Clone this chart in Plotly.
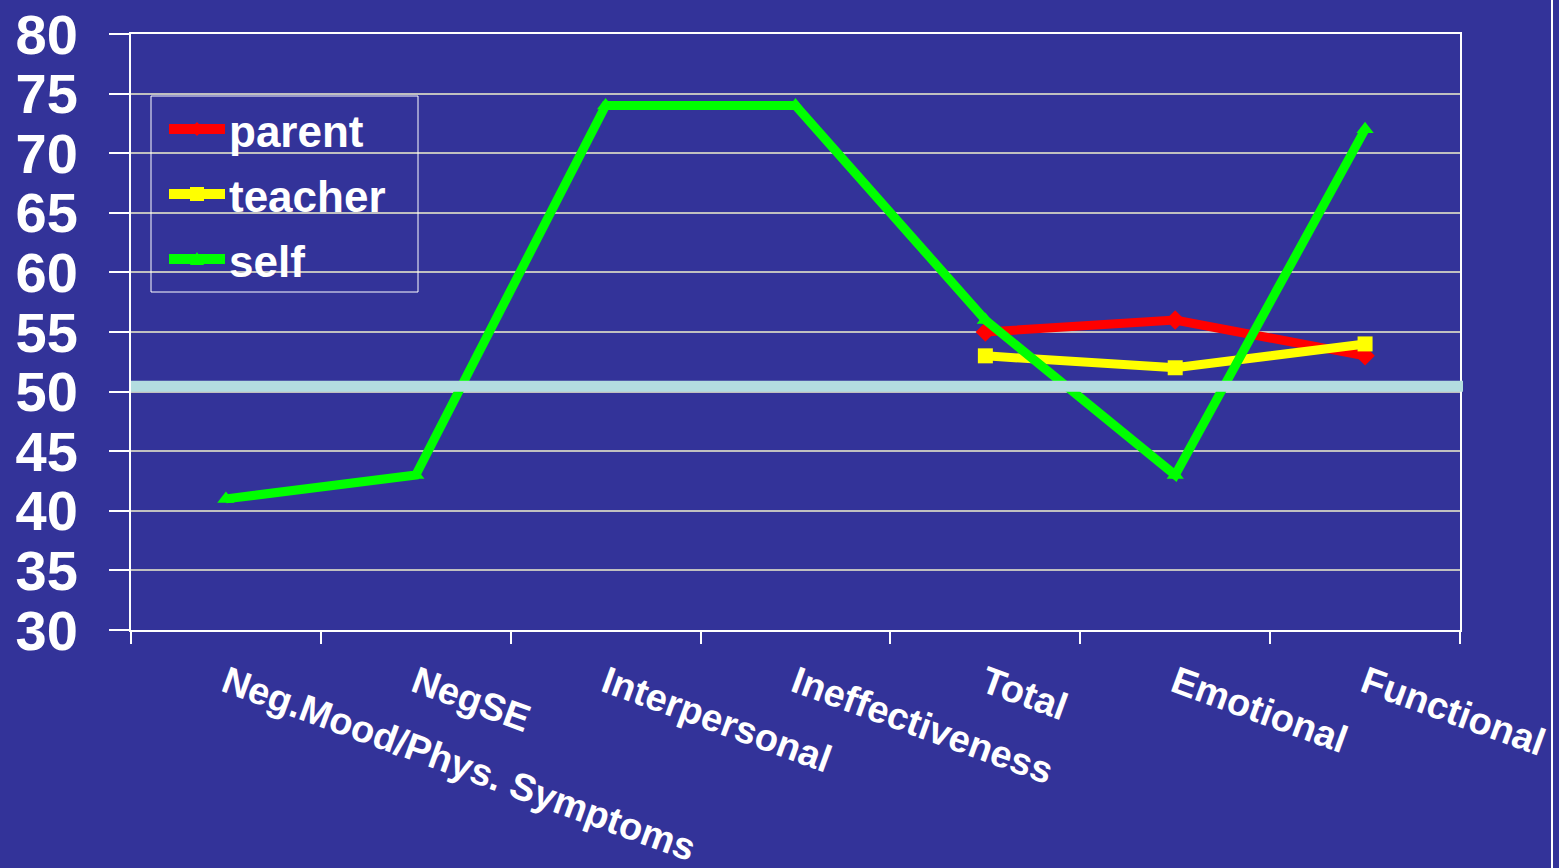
import plotly.graph_objects as go

categories = ["Neg.Mood/Phys. Symptoms", "NegSE", "Interpersonal", "Ineffectiveness",
              "Total", "Emotional", "Functional"]
parent = [None, None, None, None, 55, 56, 53]
teacher = [None, None, None, None, 53, 52, 54]
self_vals = [41, 43, 74, 74, 56, 43, 72]
y_ticks = [30, 35, 40, 45, 50, 55, 60, 65, 70, 75, 80]
reference_value = 50.45

BG = "#333399"
FONT = "Liberation Sans, Arial, sans-serif"

W, H = 1559, 868
L, R, T, B = 131, 99, 34, 238
PW, PH = W - L - R, H - T - B


def px(x):
    return (x - L) / PW


def py(y):
    return (H - B - y) / PH


fig = go.Figure()
series = [
    ("parent", parent, "#ff0000", "diamond", 15),
    ("teacher", teacher, "#ffff00", "square", 15),
    ("self", self_vals, "#00ff00", "triangle-up", 15),
]
for name, vals, color, sym, ms in series:
    fig.add_trace(go.Scatter(
        x=categories, y=vals, name=name, mode="lines+markers",
        line=dict(color=color, width=9),
        marker=dict(color=color, symbol=sym, size=ms),
        connectgaps=False, showlegend=False,
    ))

fig.add_shape(type="line", xref="paper", yref="y", x0=0, x1=px(1463),
              y0=reference_value, y1=reference_value,
              line=dict(color="#b3dde0", width=11), layer="above")
fig.add_shape(type="line", xref="paper", yref="paper", x0=px(1552), x1=px(1552),
              y0=py(H), y1=py(0), line=dict(color="white", width=2))

# manual legend (box, sample lines, small markers, labels)
fig.add_shape(type="rect", xref="paper", yref="paper",
              x0=px(151), x1=px(418), y0=py(292), y1=py(96),
              line=dict(color="white", width=1), fillcolor="rgba(0,0,0,0)")
rows = [129, 194, 259]
for (name, vals, color, sym, ms), ry in zip(series, rows):
    fig.add_shape(type="line", xref="paper", yref="paper",
                  x0=px(169), x1=px(225), y0=py(ry), y1=py(ry),
                  line=dict(color=color, width=10))
    cx = 197
    if sym == "diamond":
        path = (f"M {px(cx-7)},{py(ry)} L {px(cx)},{py(ry-7)} L {px(cx+7)},{py(ry)} "
                f"L {px(cx)},{py(ry+7)} Z")
    elif sym == "square":
        path = (f"M {px(cx-7)},{py(ry-7)} L {px(cx+7)},{py(ry-7)} L {px(cx+7)},{py(ry+7)} "
                f"L {px(cx-7)},{py(ry+7)} Z")
    else:
        path = (f"M {px(cx-7)},{py(ry+6)} L {px(cx)},{py(ry-7)} L {px(cx+7)},{py(ry+6)} Z")
    fig.add_shape(type="path", xref="paper", yref="paper", path=path,
                  fillcolor=color, line=dict(color=color, width=0))
    fig.add_annotation(xref="paper", yref="paper", x=px(227), y=py(ry + 2),
                       xanchor="left", yanchor="middle", text=name, showarrow=False,
                       font=dict(size=44, color="white", family=FONT, weight="bold"))

fig.update_layout(
    width=W, height=H,
    paper_bgcolor=BG, plot_bgcolor=BG,
    margin=dict(l=L, r=R, t=T, b=B),
    font=dict(family=FONT, color="white"),
    showlegend=False,
    xaxis=dict(
        type="category", categoryorder="array", categoryarray=categories,
        range=[-0.5, len(categories) - 0.5],
        showgrid=False, showline=True, linecolor="white", linewidth=2, mirror=True,
        ticks="outside", tickson="boundaries", ticklen=12, tickcolor="white", tickwidth=2,
        tickangle=20, ticklabelstandoff=14, automargin=False,
        tickfont=dict(size=38, color="white", family=FONT, weight="bold"),
        zeroline=False,
    ),
    yaxis=dict(
        range=[30, 80], tickvals=y_ticks,
        showgrid=True, gridcolor="#c0c0c0", gridwidth=2,
        showline=True, linecolor="white", linewidth=2, mirror=True,
        ticks="outside", ticklen=20, tickcolor="white", tickwidth=2,
        tickfont=dict(size=56, color="white", family=FONT, weight="bold"),
        ticklabelstandoff=20, automargin=False,
        zeroline=False,
    ),
)

fig.write_html("out.html")
